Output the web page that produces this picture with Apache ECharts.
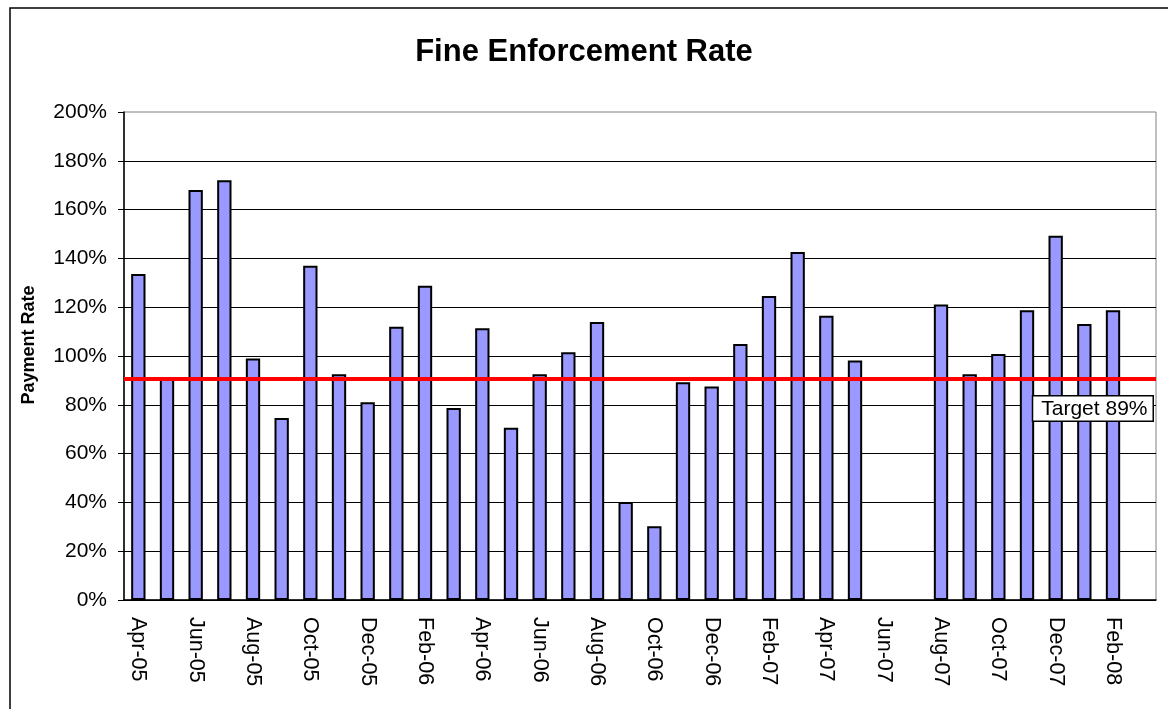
<!DOCTYPE html>
<html>
<head>
<meta charset="utf-8">
<title>Fine Enforcement Rate</title>
<script src="https://cdn.jsdelivr.net/npm/echarts@6/dist/echarts.min.js"></script>
<style>
	html, body {
		margin: 0;
		padding: 0;
		background: #fff;
	}
	#chart {
		width: 1168px;
		height: 709px;
	}
</style>
</head>
<body>
<div id="chart"></div>
<script>
	// months Apr-05 .. Mar-08
	var months = ['Apr-05', 'May-05', 'Jun-05', 'Jul-05', 'Aug-05', 'Sep-05', 'Oct-05', 'Nov-05', 'Dec-05',
		'Jan-06', 'Feb-06', 'Mar-06', 'Apr-06', 'May-06', 'Jun-06', 'Jul-06', 'Aug-06', 'Sep-06', 'Oct-06', 'Nov-06', 'Dec-06',
		'Jan-07', 'Feb-07', 'Mar-07', 'Apr-07', 'May-07', 'Jun-07', 'Jul-07', 'Aug-07', 'Sep-07', 'Oct-07', 'Nov-07', 'Dec-07',
		'Jan-08', 'Feb-08', 'Mar-08'];

	// payment rate, %
	var paymentRate = [133.6, 91, 168, 172, 99, 74.6, 137, 92.5, 81,
		112, 128.8, 78.7, 111.4, 70.6, 92.5, 101.5, 113.9, 40.2, 30.2, 89.2, 87.5,
		104.9, 124.6, 142.6, 116.5, 98.2, null, null, 121.1, 92.5, 100.8, 118.7, 149.3,
		113.1, 118.7, null];

	var targetLine = 90.5;
	var targetText = 'Target 89%';

	var font = 'Liberation Sans, Arial, sans-serif';
	var myChart = echarts.init(document.getElementById('chart'));

	myChart.setOption({
		backgroundColor: '#fff',
		animation: false,
		textStyle: {
			fontFamily: font
		},
		title: {
			text: 'Fine Enforcement Rate',
			left: 'center',
			top: 32,
			textStyle: {
				fontSize: 31,
				fontWeight: 'bold',
				color: '#000'
			}
		},
		grid: {
			left: 124,
			right: 12,
			top: 112,
			bottom: 109,
			show: true,
			borderColor: '#808080',
			borderWidth: 1
		},
		xAxis: {
			type: 'category',
			data: months,
			boundaryGap: true,
			axisLine: {
				lineStyle: { color: '#000', width: 1.5 }
			},
			axisTick: {
				interval: 0,
				length: 5,
				lineStyle: { color: '#000' }
			},
			axisLabel: {
				interval: 1,
				rotate: -90,
				margin: 17,
				fontSize: 21.5,
				color: '#000'
			},
			splitLine: { show: false }
		},
		yAxis: {
			type: 'value',
			min: 0,
			max: 200,
			interval: 20,
			axisLine: {
				show: true,
				lineStyle: { color: '#000', width: 1.5 }
			},
			axisTick: {
				show: true,
				length: 6,
				lineStyle: { color: '#000' }
			},
			axisLabel: {
				formatter: '{value}%',
				margin: 17,
				fontSize: 21,
				color: '#000'
			},
			splitLine: {
				show: true,
				showMaxLine: false,
				lineStyle: { color: '#000', width: 1 }
			}
		},
		series: [
			{
				name: 'Payment Rate',
				type: 'bar',
				data: paymentRate,
				barWidth: '50%',
				itemStyle: {
					color: '#9999FF',
					borderColor: '#000',
					borderWidth: 2
				},
				markLine: {
					silent: true,
					symbol: ['none', 'none'],
					label: { show: false },
					lineStyle: {
						color: '#FF0000',
						width: 4,
						type: 'solid'
					},
					data: [{ yAxis: targetLine }]
				}
			}
		],
		graphic: [
			{
				// outer chart border
				type: 'rect',
				shape: { x: 10, y: 8, width: 1170, height: 720 },
				style: { fill: 'none', stroke: '#000', lineWidth: 1.5 },
				z: 100
			},
			{
				// y axis title
				type: 'text',
				x: 29,
				y: 345,
				rotation: Math.PI / 2,
				style: {
					text: 'Payment Rate',
					fontSize: 18,
					fontWeight: 'bold',
					fontFamily: font,
					fill: '#000',
					align: 'center',
					verticalAlign: 'middle'
				},
				z: 100
			},
			{
				type: 'text',
				right: 14,
				top: 395,
				style: {
					text: targetText,
					fontSize: 21,
					fontFamily: font,
					fill: '#000',
					backgroundColor: '#fff',
					borderColor: '#000',
					borderWidth: 1.5,
					padding: [2, 5, 1, 8]
				},
				z: 100
			}
		]
	});
</script>
</body>
</html>
